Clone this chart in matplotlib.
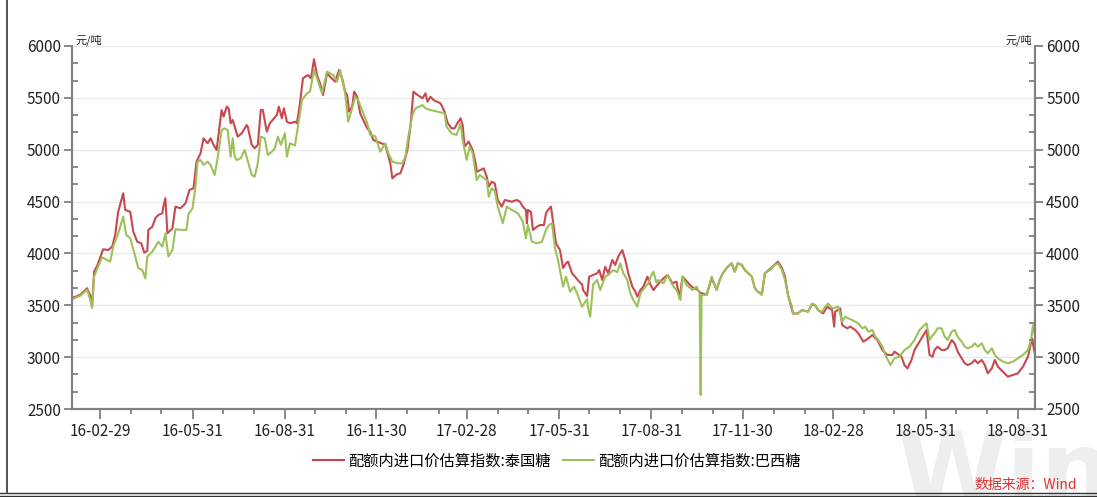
import numpy as np
import pandas as pd
import matplotlib
matplotlib.use('Agg')
import matplotlib.pyplot as plt
import matplotlib.dates as mdates
from matplotlib.ticker import MultipleLocator, FixedLocator
from matplotlib.lines import Line2D

plt.rcParams['font.family'] = ['Noto Sans CJK SC', 'DejaVu Sans']

# days since 2016-01-01 and index values (元/吨)
red_days = [31, 39, 46, 49, 51, 53, 56, 62, 67, 71,
            74, 77, 82, 84, 89, 92, 96, 100, 103, 106,
            107, 111, 114, 117, 121, 122, 124, 126, 131, 134,
            139, 144, 148, 152, 155, 159, 162, 166, 169, 172,
            175, 180, 182, 185, 187, 189, 191, 194, 196, 200,
            205, 206, 210, 213, 216, 219, 221, 225, 228, 235,
            237, 240, 242, 245, 248, 253, 255, 258, 261, 266,
            269, 272, 275, 278, 281, 285, 288, 293, 297, 300,
            303, 305, 307, 310, 312, 315, 318, 321, 325, 328,
            331, 335, 343, 348, 350, 354, 358, 361, 365, 368,
            371, 375, 380, 383, 385, 388, 391, 398, 402, 405,
            409, 412, 415, 418, 420, 422, 426, 430, 433, 434,
            438, 441, 444, 446, 449, 452, 455, 459, 462, 469,
            474, 477, 480, 483, 484, 485, 488, 490, 494, 497,
            501, 503, 505, 508, 510, 513, 517, 520, 523, 525,
            529, 532, 535, 539, 540, 544, 546, 550, 554, 556,
            559, 562, 565, 569, 572, 575, 579, 582, 585, 589,
            592, 594, 597, 600, 604, 607, 610, 614, 617, 620,
            624, 626, 629, 633, 636, 639, 648, 654, 657, 663,
            668, 673, 676, 679, 684, 688, 691, 694, 698, 701,
            708, 711, 714, 718, 721, 726, 731, 734, 738, 741,
            744, 748, 749, 754, 758, 764, 768, 771, 774, 779,
            783, 788, 790, 791, 796, 798, 803, 806, 811, 814,
            819, 824, 828, 833, 838, 843, 848, 850, 857, 860,
            863, 867, 870, 875, 880, 882, 885, 888, 890, 893,
            897, 900, 903, 907, 910, 913, 917, 920, 923, 927,
            930, 933, 937, 940, 943, 947, 950, 953, 958, 963,
            968, 973, 978, 983, 987, 990]
red_vals = [3570, 3600, 3664, 3600, 3486, 3824, 3879, 4040, 4033, 4065,
            4178, 4402, 4580, 4419, 4402, 4210, 4113, 4097, 4007, 4026,
            4226, 4258, 4339, 4371, 4387, 4451, 4532, 4194, 4242, 4451,
            4435, 4483, 4612, 4628, 4885, 4965, 5110, 5062, 5110, 5046,
            4997, 5383, 5319, 5415, 5399, 5255, 5287, 5190, 5126, 5158,
            5238, 5222, 5046, 5014, 5046, 5383, 5383, 5174, 5255, 5335,
            5415, 5303, 5399, 5270, 5255, 5270, 5255, 5447, 5689, 5720,
            5689, 5872, 5720, 5640, 5528, 5737, 5704, 5656, 5769, 5689,
            5560, 5528, 5367, 5415, 5560, 5511, 5351, 5287, 5206, 5174,
            5094, 5078, 5046, 4869, 4724, 4760, 4773, 4853, 4997, 5222,
            5560, 5528, 5496, 5544, 5463, 5511, 5479, 5447, 5367, 5260,
            5206, 5206, 5260, 5303, 5238, 5030, 5078, 4997, 4869, 4788,
            4805, 4821, 4740, 4644, 4692, 4676, 4515, 4451, 4515, 4499,
            4515, 4499, 4451, 4419, 4291, 4419, 4402, 4226, 4258, 4274,
            4274, 4387, 4419, 4451, 4306, 4098, 4030, 3860, 3905, 3921,
            3808, 3776, 3740, 3700, 3647, 3590, 3776, 3792, 3808, 3840,
            3744, 3872, 3808, 3937, 3889, 3970, 4033, 3937, 3808, 3680,
            3631, 3583, 3647, 3680, 3776, 3700, 3647, 3696, 3728, 3760,
            3792, 3760, 3712, 3728, 3567, 3776, 3680, 3647, 3620, 3600,
            3760, 3650, 3744, 3808, 3872, 3905, 3824, 3905, 3889, 3840,
            3776, 3664, 3631, 3610, 3808, 3850, 3895, 3921, 3860, 3776,
            3600, 3454, 3420, 3422, 3454, 3438, 3510, 3500, 3454, 3422,
            3486, 3454, 3294, 3438, 3470, 3310, 3278, 3294, 3262, 3230,
            3149, 3181, 3213, 3165, 3069, 3021, 3021, 3053, 3005, 2924,
            2892, 2973, 3069, 3149, 3230, 3262, 3021, 3005, 3069, 3101,
            3069, 3069, 3085, 3165, 3133, 3053, 2989, 2941, 2924, 2941,
            2973, 2941, 2973, 2924, 2844, 2892, 2973, 2908, 2860, 2812,
            2828, 2844, 2908, 3005, 3181, 3021]

green_days = [31, 39, 46, 49, 51, 53, 56, 61, 69, 72,
              77, 82, 85, 89, 94, 97, 101, 104, 106, 111,
              114, 117, 121, 124, 127, 131, 134, 141, 145, 147,
              151, 154, 156, 159, 162, 166, 169, 173, 176, 180,
              183, 186, 189, 191, 193, 195, 199, 203, 210, 213,
              216, 219, 223, 226, 230, 233, 236, 239, 243, 245,
              248, 253, 256, 260, 265, 268, 272, 275, 280, 285,
              291, 295, 298, 303, 306, 310, 313, 316, 320, 325,
              328, 333, 338, 343, 346, 350, 355, 360, 363, 366,
              370, 373, 380, 383, 388, 402, 404, 409, 414, 418,
              420, 424, 427, 430, 434, 437, 444, 446, 449, 452,
              455, 460, 464, 469, 475, 480, 483, 485, 489, 494,
              499, 503, 506, 509, 512, 515, 520, 523, 527, 531,
              534, 539, 544, 545, 547, 550, 554, 557, 562, 566,
              570, 574, 577, 580, 584, 587, 590, 594, 597, 602,
              605, 608, 610, 613, 615, 620, 624, 629, 633, 637,
              639, 643, 649, 653, 656, 657, 658, 663, 668, 673,
              676, 679, 684, 688, 691, 694, 698, 701, 708, 711,
              714, 718, 721, 726, 731, 734, 738, 741, 744, 748,
              749, 754, 758, 764, 768, 771, 774, 778, 781, 784,
              788, 794, 798, 801, 804, 808, 814, 818, 821, 824,
              828, 831, 834, 838, 841, 846, 850, 855, 860, 865,
              870, 875, 880, 882, 885, 887, 890, 893, 897, 900,
              903, 907, 910, 913, 917, 920, 923, 927, 930, 933,
              937, 940, 943, 947, 950, 953, 958, 963, 968, 973,
              978, 983, 986, 988, 990]
green_vals = [3560, 3590, 3650, 3560, 3474, 3776, 3850, 3963, 3920, 4065,
              4194, 4354, 4178, 4146, 3970, 3857, 3840, 3760, 3970, 4017,
              4065, 4113, 4065, 4194, 3970, 4033, 4233, 4226, 4226, 4380,
              4435, 4644, 4885, 4901, 4853, 4885, 4853, 4756, 4917, 5190,
              5206, 5190, 4933, 5110, 4933, 4901, 4917, 4997, 4756, 4740,
              4869, 5126, 5110, 4949, 4981, 5014, 5126, 5046, 5158, 4933,
              5062, 5040, 5222, 5479, 5544, 5560, 5769, 5689, 5544, 5753,
              5720, 5656, 5769, 5544, 5270, 5399, 5511, 5479, 5380, 5255,
              5142, 5130, 4981, 5062, 4965, 4885, 4869, 4869, 4933, 5126,
              5335, 5399, 5431, 5399, 5383, 5351, 5222, 5158, 5142, 5255,
              5094, 4901, 5030, 4965, 4708, 4756, 4708, 4547, 4628, 4600,
              4451, 4291, 4451, 4419, 4387, 4306, 4146, 4274, 4113, 4098,
              4113, 4226, 4274, 4291, 4049, 3937, 3680, 3776, 3631, 3680,
              3615, 3486, 3560, 3470, 3390, 3700, 3744, 3647, 3776, 3800,
              3840, 3820, 3905, 3808, 3744, 3615, 3551, 3486, 3615, 3680,
              3712, 3790, 3824, 3720, 3744, 3712, 3792, 3696, 3647, 3551,
              3776, 3696, 3647, 3680, 3615, 2635, 3599, 3599, 3776, 3647,
              3744, 3808, 3872, 3905, 3824, 3905, 3889, 3840, 3776, 3664,
              3631, 3599, 3808, 3840, 3889, 3905, 3840, 3744, 3599, 3486,
              3422, 3422, 3454, 3438, 3518, 3503, 3454, 3438, 3486, 3518,
              3470, 3486, 3342, 3390, 3374, 3358, 3326, 3278, 3294, 3245,
              3262, 3197, 3165, 3101, 3021, 2924, 2989, 3005, 3069, 3101,
              3165, 3262, 3310, 3326, 3165, 3197, 3230, 3278, 3278, 3197,
              3165, 3245, 3262, 3197, 3149, 3101, 3085, 3101, 3133, 3101,
              3133, 3069, 3037, 3085, 3021, 2989, 2957, 2941, 2957, 2989,
              3021, 3069, 3165, 3310, 3197]

red_name = '配额内进口价估算指数:泰国糖'
green_name = '配额内进口价估算指数:巴西糖'
unit = '元/吨'
major_dates = ['2016-02-29', '2016-05-31', '2016-08-31', '2016-11-30',
               '2017-02-28', '2017-05-31', '2017-08-31', '2017-11-30',
               '2018-02-28', '2018-05-31', '2018-08-31']

base = pd.Timestamp('2016-01-01')
red_dates = base + pd.to_timedelta(red_days, unit='D')
green_dates = base + pd.to_timedelta(green_days, unit='D')

RED = '#c9474f'
GREEN = '#9cc15a'
AXC = '#808080'

fig = plt.figure(figsize=(10.97, 4.97), dpi=100)

# watermark behind everything
fig.text(896 / 1097, 1 - 502 / 497, 'Wind', fontsize=72, fontweight='bold', color='#eeeeee',
         ha='left', va='baseline', zorder=-5, family='DejaVu Sans')

ax = fig.add_axes([72 / 1097, 1 - 409 / 497, (1035 - 72) / 1097, (409 - 46) / 497])
ax.patch.set_alpha(0)
ax.set_zorder(2)

ax.plot(red_dates, red_vals, color=RED, lw=1.5, label=red_name)
ax.plot(green_dates, green_vals, color=GREEN, lw=1.5, label=green_name)

ax.set_xlim(base + pd.Timedelta(days=31), base + pd.Timedelta(days=990))
ax.set_ylim(2500, 6000)

ax.xaxis.set_major_locator(FixedLocator(mdates.date2num(pd.to_datetime(major_dates))))
ax.xaxis.set_minor_locator(FixedLocator(mdates.date2num(pd.date_range('2016-01-31', '2018-09-30', freq='ME'))))
ax.xaxis.set_major_formatter(mdates.DateFormatter('%y-%m-%d'))
ax.yaxis.set_major_locator(MultipleLocator(500))
ax.yaxis.set_minor_locator(MultipleLocator(500 / 3))

ax.grid(axis='y', which='major', color='#e8e8e8', lw=0.9)
ax.set_axisbelow(True)

for s in ['left', 'right', 'bottom']:
    ax.spines[s].set_color(AXC)
    ax.spines[s].set_linewidth(1.5)
ax.spines['top'].set_visible(False)

ax.tick_params(axis='x', which='major', direction='out', length=7, width=1.3, color=AXC,
               labelsize=11, labelcolor='#222222', pad=3)
ax.tick_params(axis='x', which='minor', direction='out', length=3.5, width=1.3, color=AXC)
ax.tick_params(axis='y', which='major', direction='out', length=6, width=1.3, color=AXC,
               labelsize=11, labelcolor='#222222', pad=2)
ax.tick_params(axis='y', which='minor', direction='in', length=4, width=1.3, color=AXC)

ax2 = ax.twinx()
ax2.set_zorder(3)
ax2.patch.set_alpha(0)
ax2.set_ylim(ax.get_ylim())
ax2.yaxis.set_major_locator(MultipleLocator(500))
ax2.yaxis.set_minor_locator(MultipleLocator(500 / 3))
for s in ['left', 'right', 'bottom']:
    ax2.spines[s].set_color(AXC)
    ax2.spines[s].set_linewidth(1.5)
ax2.spines['top'].set_visible(False)
ax2.tick_params(axis='y', which='major', direction='out', length=6, width=1.3, color=AXC,
                labelsize=11, labelcolor='#222222', pad=2)
ax2.tick_params(axis='y', which='minor', direction='in', length=4, width=1.3, color=AXC)

ax.text(0.004, 1.0, unit, transform=ax.transAxes, fontsize=8, ha='left', va='bottom', color='#222222')
ax.text(0.997, 1.0, unit, transform=ax.transAxes, fontsize=8, ha='right', va='bottom', color='#222222')

fig.legend(handles=ax.get_lines(), loc='center', bbox_to_anchor=(557 / 1097, 1 - 461 / 497),
           ncol=2, frameon=False, fontsize=11, handlelength=2.0, handletextpad=0.3,
           columnspacing=0.8)

# data source
fig.text(1077 / 1097, 1 - 485 / 497, '数据来源：Wind', fontsize=10, style='italic',
         color='#e03333', ha='right', va='center', zorder=5)

# screenshot frame
fig.add_artist(Line2D([7 / 1097, 7 / 1097], [1 - 492 / 497, 1], color='#333333', lw=1.2))
fig.add_artist(Line2D([0, 1], [1 - 493 / 497] * 2, color='#333333', lw=1.0))
fig.add_artist(Line2D([0, 1], [1 - 496 / 497] * 2, color='#333333', lw=1.0))

fig.savefig('out.png', dpi=100)
